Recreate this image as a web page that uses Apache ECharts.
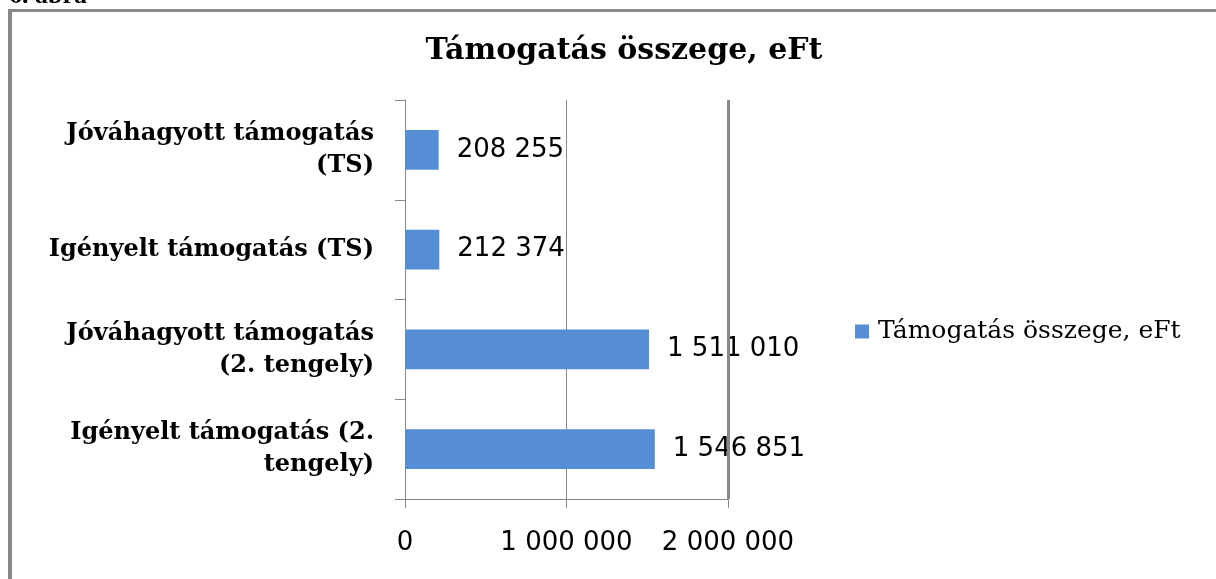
<!DOCTYPE html>
<html>
<head>
<meta charset="utf-8">
<style>
html,body{margin:0;padding:0;background:#fff;}
#chart{width:1216px;height:579px;}
</style>
<script src="https://cdn.jsdelivr.net/npm/echarts@6/dist/echarts.min.js"></script>
</head>
<body>
<div id="chart"></div>
<script>
const categories = [
  'Igényelt támogatás (2.\ntengely)',
  'Jóváhagyott támogatás\n(2. tengely)',
  'Igényelt támogatás (TS)',
  'Jóváhagyott támogatás\n(TS)'
];
const values = [1546851, 1511010, 212374, 208255];
const seriesName = 'Támogatás összege, eFt';
const titleText = 'Támogatás összege, eFt';
const xTicks = [0, 1000000, 2000000];

function fmt(v){ return String(v).replace(/\B(?=(\d{3})+(?!\d))/g, ' '); }

const chart = echarts.init(document.getElementById('chart'), null, {renderer:'canvas'});
chart.setOption({
  animation: false,
  backgroundColor: '#fff',
  title: {
    text: titleText,
    left: 619, top: 31, textAlign: 'center',
    textStyle: {fontFamily: 'DejaVu Serif', fontWeight: 'bold', fontSize: 30, color: '#000'}
  },
  legend: {
    data: [seriesName],
    left: 850, top: 314,
    icon: 'rect', itemWidth: 14, itemHeight: 14, itemGap: 10,
    textStyle: {fontFamily: 'DejaVu Serif', fontSize: 25, color: '#000', padding: [0, 0, 0, 4]}
  },
  grid: {left: 405, right: 488, top: 100, bottom: 80, containLabel: false},
  xAxis: {
    type: 'value', min: xTicks[0], max: xTicks[2], interval: 1000000,
    axisLine: {show: true, lineStyle: {color: '#888', width: 1}},
    axisTick: {show: true, length: 9, lineStyle: {color: '#888'}},
    splitLine: {show: true, lineStyle: {color: '#888', width: 1}},
    axisLabel: {margin: 31, fontFamily: 'DejaVu Sans', fontSize: 26, color: '#000', formatter: fmt}
  },
  yAxis: {
    type: 'category', data: categories,
    axisLine: {show: true, lineStyle: {color: '#888'}},
    axisTick: {show: true, length: 10, lineStyle: {color: '#888'}},
    axisLabel: {margin: 31, fontFamily: 'DejaVu Serif', fontWeight: 'bold', fontSize: 24, color: '#000', lineHeight: 32, align: 'right'}
  },
  series: [{
    name: seriesName, type: 'bar', data: values,
    barCategoryGap: '60%',
    itemStyle: {color: '#558ED5'},
    label: {show: true, position: 'right', distance: 18, fontFamily: 'DejaVu Sans', fontSize: 26, color: '#000', formatter: p => fmt(p.value)},
    markLine: {
      silent: true, symbol: 'none', label: {show: false},
      lineStyle: {color: '#888', width: 3, type: 'solid'},
      data: [{xAxis: xTicks[2]}]
    }
  }],
  graphic: [
    {type: 'line', shape: {x1: 10, y1: 10, x2: 10, y2: 579}, style: {stroke: '#888', lineWidth: 4}},
    {type: 'line', shape: {x1: 8, y1: 10.5, x2: 1216, y2: 10.5}, style: {stroke: '#888', lineWidth: 3}},
    {type: 'text', x: 9, y: 9, z: 10, style: {text: '6. ábra', font: 'bold 26px "Liberation Serif"', fill: '#000', verticalAlign: 'bottom'}}
  ]
});
</script>
</body>
</html>
